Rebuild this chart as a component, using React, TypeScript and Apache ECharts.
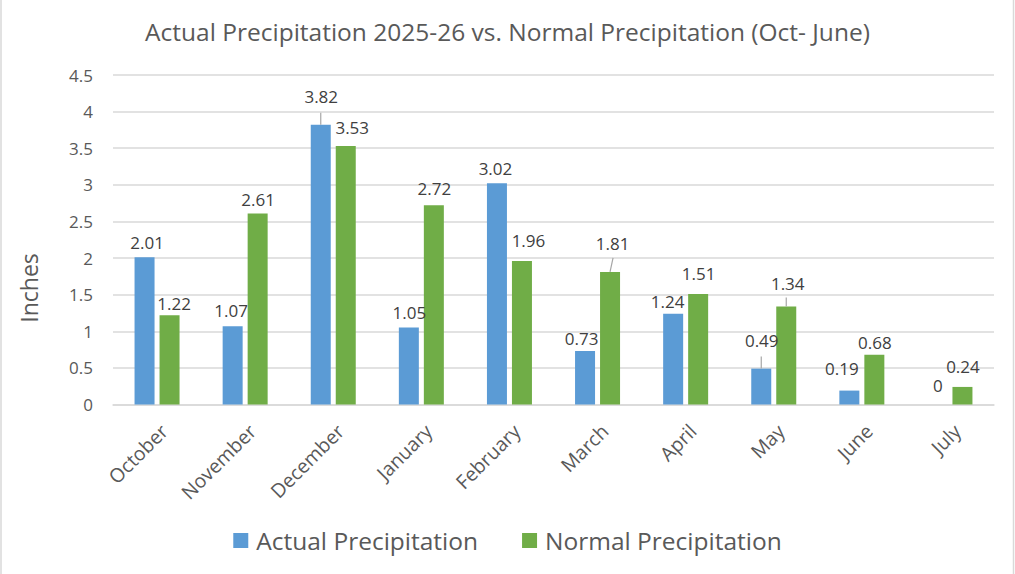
import React, { useEffect, useRef } from "react";
import * as echarts from "echarts";

// Monthly precipitation, inches
const months = ["October", "November", "December", "January", "February", "March", "April", "May", "June", "July"];
const actualPrecip = [2.01, 1.07, 3.82, 1.05, 3.02, 0.73, 1.24, 0.49, 0.19, 0];
const normalPrecip = [1.22, 2.61, 3.53, 2.72, 1.96, 1.81, 1.51, 1.34, 0.68, 0.24];
const yTicks = { min: 0, max: 4.5, interval: 0.5 };

// Label nudges [dx, dy] measured from the top-centre of each bar
const actualLabelNudge: [number, number][] = [
  [2.5, -15], [-1.5, -16], [0.5, -28], [0.5, -15], [-1.5, -15],
  [-3.5, -13], [-5.5, -12], [0.5, -28], [-7.5, -22], [0.5, -19],
];
const normalLabelNudge: [number, number][] = [
  [4.5, -12], [0.5, -14], [6.5, -19], [0.5, -17], [6.5, -20],
  [2.5, -28], [0.5, -20], [1.5, -23], [0.5, -12.5], [0.5, -20],
];

// Leader lines joining a moved label back to its bar: [month index, series (0 actual, 1 normal), length, slant]
const leaders: [number, number, number, number][] = [
  [2, 0, 12, 0],
  [5, 1, 14, 3],
  [7, 0, 12, 0],
  [7, 1, 9, 0],
];

const BLUE = "#5B9BD5";
const GREEN = "#70AD47";
const FONT = "Open Sans";
const BAR_W = 20;
const BAR_GAP = 5;

function buildBarData(values: number[], nudges: [number, number][]) {
  return values.map((v, i) => ({
    value: v,
    label: { offset: nudges[i] },
  }));
}

export default function App() {
  const ref = useRef<HTMLDivElement>(null);

  useEffect(() => {
    if (!ref.current) return;
    const chart = echarts.init(ref.current, undefined, { renderer: "svg" });

    const labelBase = {
      show: true,
      position: "top" as const,
      distance: 0,
      align: "center" as const,
      verticalAlign: "middle" as const,
      color: "#404040",
      fontFamily: FONT,
      fontSize: 17,
    };

    const leaderData = leaders.map(([idx, s, len, slant]) => [
      idx,
      s === 0 ? actualPrecip[idx] : normalPrecip[idx],
      s === 0 ? -1 : 1,
      len,
      slant,
    ]);

    chart.setOption({
      animation: false,
      backgroundColor: "#ffffff",
      title: {
        text: "Actual Precipitation 2025-26 vs. Normal Precipitation (Oct- June)",
        left: "center",
        top: 14,
        textStyle: { color: "#595959", fontFamily: FONT, fontSize: 24.5, fontWeight: "normal" },
      },
      legend: {
        data: ["Actual Precipitation", "Normal Precipitation"],
        left: "center",
        top: 523,
        icon: "rect",
        itemWidth: 15,
        itemHeight: 15,
        itemGap: 44,
        textStyle: { color: "#595959", fontFamily: FONT, fontSize: 24.5, padding: [0, 0, 0, 3] },
      },
      grid: { left: 113, right: 21, top: 75, bottom: 169.5 },
      xAxis: {
        type: "category",
        data: months,
        axisLine: { show: true, lineStyle: { color: "#D9D9D9", width: 1.5 } },
        axisTick: { show: false },
        axisLabel: {
          rotate: 45,
          margin: 16,
          verticalAlign: "top",
          color: "#595959",
          fontFamily: FONT,
          fontSize: 19.5,
          interval: 0,
        },
      },
      yAxis: {
        type: "value",
        min: yTicks.min,
        max: yTicks.max,
        interval: yTicks.interval,
        axisLine: { show: false },
        axisTick: { show: false },
        axisLabel: { color: "#595959", fontFamily: FONT, fontSize: 17, margin: 20 },
        splitLine: { lineStyle: { color: "#D9D9D9", width: 1.5 } },
      },
      graphic: [
        {
          type: "text",
          x: 29,
          y: 288,
          rotation: Math.PI / 2,
          style: {
            text: "Inches",
            fill: "#595959",
            font: `23px "${FONT}"`,
            align: "center",
            verticalAlign: "middle",
          },
        },
        { type: "line", shape: { x1: 1, y1: 0, x2: 1, y2: 574 }, style: { stroke: "#D9D9D9", lineWidth: 1.5 } },
        { type: "line", shape: { x1: 1013.5, y1: 0, x2: 1013.5, y2: 574 }, style: { stroke: "#D9D9D9", lineWidth: 1.5 } },
      ],
      series: [
        {
          name: "Actual Precipitation",
          type: "bar",
          barWidth: BAR_W,
          barGap: `${(BAR_GAP / BAR_W) * 100}%`,
          itemStyle: { color: BLUE },
          label: labelBase,
          data: buildBarData(actualPrecip, actualLabelNudge),
        },
        {
          name: "Normal Precipitation",
          type: "bar",
          barWidth: BAR_W,
          barGap: `${(BAR_GAP / BAR_W) * 100}%`,
          itemStyle: { color: GREEN },
          label: labelBase,
          data: buildBarData(normalPrecip, normalLabelNudge),
        },
        {
          name: "leaders",
          type: "custom",
          silent: true,
          z: 5,
          encode: { x: 0, y: 1 },
          data: leaderData,
          renderItem: (_params: any, api: any) => {
            const p = api.coord([api.value(0), api.value(1)]);
            const x = p[0] + api.value(2) * ((BAR_W + BAR_GAP) / 2);
            return {
              type: "line",
              shape: { x1: x, y1: p[1], x2: x + api.value(4), y2: p[1] - api.value(3) },
              style: { stroke: "#A6A6A6", lineWidth: 1.2 },
            };
          },
        },
      ],
    });

    return () => chart.dispose();
  }, []);

  return <div ref={ref} style={{ width: 1015, height: 574, position: "absolute", left: 0, top: 0 }} />;
}
